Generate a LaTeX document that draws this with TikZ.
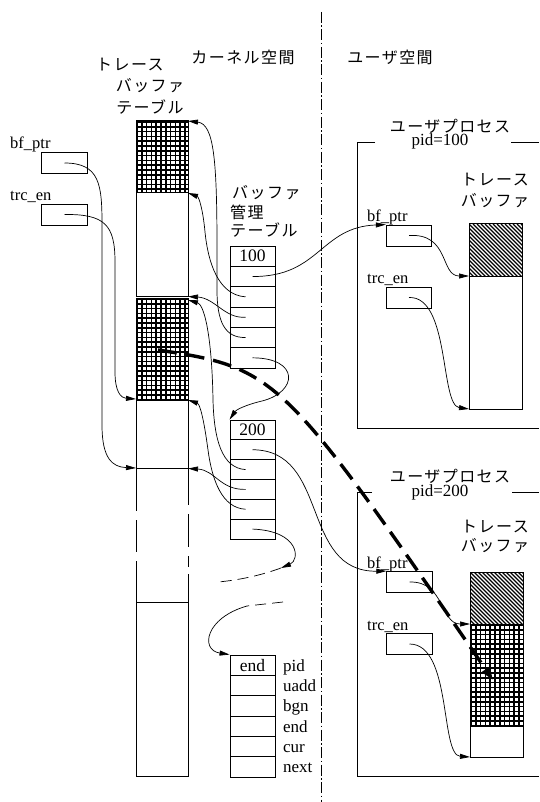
\documentclass[tikz,border=0pt]{standalone}
\usepackage{fontspec}
\setmainfont{Liberation Serif}
\newfontfamily\cjk[LetterSpace=9]{Noto Sans CJK JP}
\usetikzlibrary{arrows.meta}
\newcommand{\mygridfill}[4]{%
  \begin{scope}
    \clip (#1,#2) rectangle (#3,#4);
    \foreach \gx in {0,4.8,...,60} \draw[gridline] ({#1+\gx+1},#2) -- ({#1+\gx+1},#4);
    \foreach \gy in {0,4.8,...,110} \draw[gridline] (#1,{#2+\gy+1}) -- (#3,{#2+\gy+1});
  \end{scope}}
\newcommand{\myhatchfill}[4]{%
  \begin{scope}
    \clip (#1,#2) rectangle (#3,#4);
    \foreach \hk in {-64,-60,...,60} \draw[hatchline] ({#1+\hk},#2) -- ++(70,70);
  \end{scope}}
\begin{document}
\begin{tikzpicture}[x=1pt,y=-1pt,
  jp/.style={font=\cjk\fontsize{16}{18}\selectfont, inner sep=0pt},
  lat/.style={font=\fontsize{17}{19}\selectfont, inner sep=0pt},
  var/.style={font=\fontsize{16.5}{18}\selectfont, inner sep=0pt, anchor=base west},
  vbox/.style={draw, line width=0.8pt, minimum width=45.5pt, minimum height=21pt, inner sep=0pt},
  cell/.style={draw, line width=0.9pt, minimum width=45pt, minimum height=20.33pt, inner sep=0pt, font=\fontsize{17.5}{17}\selectfont},
  cellb/.style={cell, minimum height=19.83pt},
  tbl/.style={draw, line width=1pt},
  gridline/.style={line width=1.6pt},
  hatchline/.style={line width=1.2pt},
  conn/.style={line width=0.7pt, -{Triangle[length=10pt,width=5pt]}},
  dashconn/.style={line width=0.7pt, dash pattern=on 11pt off 6pt},
  bigdash/.style={line width=3.4pt, dash pattern=on 19pt off 9pt, -{Triangle[length=13pt,width=9pt]}},
  divider/.style={line width=0.9pt, dash pattern=on 11pt off 2.5pt on 1.5pt off 2.5pt},
  frame/.style={line width=1pt}
]
\useasboundingbox (0,0) rectangle (539,802);

% ---- headings ----
\node[jp] (hTT1) at (130,65) {トレース};
\node[jp] (hTT2) at (150,86) {バッファ};
\node[jp] (hTT3) at (150,107) {テーブル};
\node[jp] (hK) at (243,57) {カーネル空間};
\node[jp] (hU) at (390,57) {ユーザ空間};
\node[jp, anchor=west] (hM1) at (232,193) {バッファ};
\node[jp, anchor=west] (hM2) at (230,212) {管理};
\node[jp, anchor=west] (hM3) at (230,230) {テーブル};

% ---- divider ----
\draw[divider] (321.5,12) -- (321.5,802);

% ---- trace buffer table (kernel) ----
\mygridfill{136}{121}{188}{193}
\draw[tbl] (136,121) rectangle (188,296);
\draw[tbl] (136,193) -- (188,193);
\mygridfill{136}{298}{188}{400}
\draw[tbl] (136,298) rectangle (188,468);
\foreach \a/\b in {468/511, 520/552, 561/602} \draw[tbl] (136,\a) -- (136,\b);
\foreach \a/\b in {468/505, 514/547, 556/567, 574/602} \draw[tbl] (188,\a) -- (188,\b);
\draw[tbl] (136,602) rectangle (188,776);
\coordinate (ttA) at (188,121);
\coordinate (ttB) at (188,193);
\coordinate (ttC) at (188,296.5);
\coordinate (ttD) at (188,300);
\coordinate (ttE) at (188,400);
\coordinate (ttF) at (188,468.5);
\coordinate (ttL1) at (136,399);
\coordinate (ttL2) at (136,468);

% ---- left variables ----
\node[var] (lbfl) at (10,149) {bf\_ptr};
\node[vbox] (lbf) at (64.5,163) {};
\node[var] (ltrl) at (10,201) {trc\_en};
\node[vbox] (ltr) at (64.5,214.5) {};

% ---- buffer management tables ----
\node[cell] (t1r1) at (252.5,256.2) {100};
\foreach \i in {2,...,6} \node[cell] (t1r\i) at (252.5,{246+20.33*(\i-0.5)}) {};
\node[cellb] (t2r1) at (252.5,430) {200};
\foreach \i in {2,...,6} \node[cellb] (t2r\i) at (252.5,{420+19.83*(\i-0.5)}) {};
\node[cell] (t3r1) at (252.5,665.2) {end};
\foreach \i in {2,...,6} \node[cell] (t3r\i) at (252.5,{655+20.33*(\i-0.5)}) {};
\foreach \i/\t in {1/pid,2/uadd,3/bgn,4/end,5/cur,6/next}
  \node[lat, anchor=base west] (f\i) at ([xshift=7.5pt,yshift=-6pt]t3r\i.east) {\t};

% ---- user process 1 ----
\node[jp] (p1a) at (450,126) {ユーザプロセス};
\node[lat, anchor=base] (p1b) at (440,146) {pid=100};
\draw[frame] (375,143) -- (357,143) -- (357,428) -- (539,428);
\draw[frame] (511,143) -- (539,143);
\node[jp] (u1a) at (495,180) {トレース};
\node[jp] (u1b) at (495,201) {バッファ};
\node[var] (ubf1l) at (367,222) {bf\_ptr};
\node[vbox] (ubf1) at (409,235.5) {};
\node[var] (utr1l) at (367,283) {trc\_en};
\node[vbox] (utr1) at (409,297.5) {};
\myhatchfill{469}{224}{522}{276}
\draw[tbl] (469,224) rectangle (522,409);
\draw[tbl] (469,276) -- (522,276);
\coordinate (ub1mid) at (469,276);
\coordinate (ub1bot) at (469,409);

% ---- user process 2 ----
\node[jp] (p2a) at (450,476) {ユーザプロセス};
\node[lat, anchor=base] (p2b) at (440,496) {pid=200};
\draw[frame] (372,492) -- (357,492) -- (357,776) -- (539,776);
\draw[frame] (512,492) -- (539,492);
\node[jp] (u2a) at (495,527) {トレース};
\node[jp] (u2b) at (495,546) {バッファ};
\node[var] (ubf2l) at (367,568) {bf\_ptr};
\node[vbox] (ubf2) at (409.5,582) {};
\node[var] (utr2l) at (367,630) {trc\_en};
\node[vbox] (utr2) at (409.5,644) {};
\myhatchfill{470}{572}{523}{624}
\mygridfill{470}{624}{523}{727}
\draw[tbl] (470,572) rectangle (523,757);
\draw[tbl] (470,624) -- (523,624);
\coordinate (ub2grid) at (470,624);
\coordinate (ub2bot) at (470,757);

% ---- connectors: left variables ----
\draw[conn] (lbf.center) .. controls (100,163) and (102,185) .. (102,225) -- (102,425) .. controls (102,458) and (112,467) .. (ttL2);
\draw[conn] (ltr.center) .. controls (105,214) and (115,225) .. (115,262) -- (115,372) .. controls (115,392) and (121,398) .. (ttL1);

% ---- connectors: table 1 ----
\draw[conn] ([xshift=-7pt]t1r5.center) .. controls (225,338) and (217,322) .. (217,290) -- (217,250) .. controls (217,160) and (214,124) .. (ttA);
\draw[conn] ([xshift=-7pt]t1r3.center) .. controls (218,295) and (208,262) .. (205,232) .. controls (203,210) and (199,197) .. (ttB);
\draw[conn] ([xshift=-7pt]t1r4.center) .. controls (225,319) and (215,298) .. (ttC);
\draw[conn] (t1r2.center) .. controls (320,277) and (320,227) .. (ubf1.north west);
\draw[conn] (t1r6.center) .. controls (300,358) and (298,392) .. (262,401) .. controls (245,405) and (236,410) .. (t2r1.north west);

% ---- connectors: table 2 ----
\draw[conn] ([xshift=-7pt]t2r3.center) .. controls (222,468) and (214,440) .. (213,400) .. controls (212,340) and (205,305) .. (ttD);
\draw[conn] ([xshift=-7pt]t2r4.center) .. controls (220,490) and (215,470) .. (ttF);
\draw[conn] ([xshift=-7pt]t2r5.center) .. controls (222,508) and (212,480) .. (208,450) .. controls (204,420) and (200,404) .. (ttE);
\draw[conn] (t2r2.center) .. controls (330,450) and (300,572) .. (ubf2.north west);
\coordinate (cA) at (281,568);
\coordinate (cB) at (218,582);
\coordinate (cC) at (283,602);
\coordinate (cD) at (247,606);
\draw[conn] (t2r6.center) .. controls (300,531) and (300,560) .. (cA);
\draw[dashconn] (cA) .. controls (262,575) and (240,580) .. (cB);
\draw[dashconn] (cC) -- (cD);
\draw[conn] (cD) .. controls (205,618) and (200,650) .. (t3r1.north west);

% ---- connectors: user space ----
\draw[conn] (ubf1.center) .. controls (450,233) and (440,276) .. (ub1mid);
\draw[conn] (utr1.center) .. controls (450,296) and (440,405) .. (ub1bot);
\draw[conn] (ubf2.center) .. controls (445,581) and (440,624) .. (ub2grid);
\draw[conn] (utr2.center) .. controls (452,644) and (440,755) .. (ub2bot);

% ---- big dashed arrow ----
\coordinate (dS) at (158,350);
\coordinate (dE) at (493,680);
\draw[bigdash] (dS) .. controls (278,368) and (283,375) .. (dE);
\end{tikzpicture}
\end{document}
